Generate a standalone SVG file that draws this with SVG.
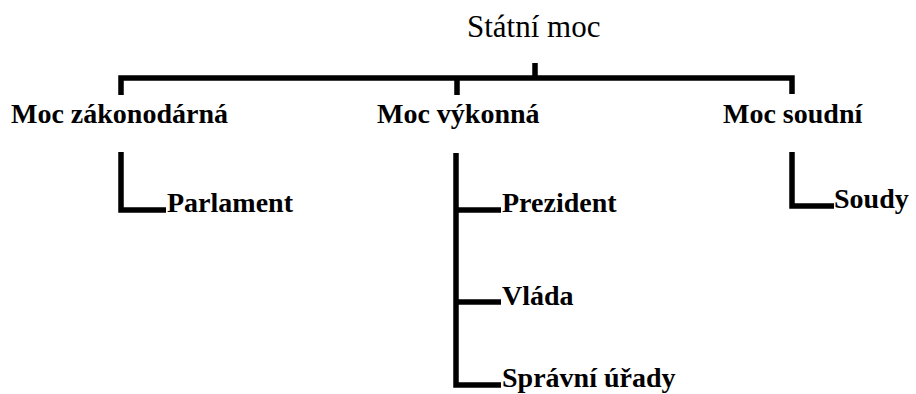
<svg xmlns="http://www.w3.org/2000/svg" width="916" height="394" viewBox="0 0 916 394">
<style>
.ln{fill:none;stroke:#000;stroke-width:5.5;stroke-linejoin:miter;stroke-linecap:butt}
.t{font-family:"Liberation Serif","Times New Roman",serif;fill:#000}
.b{font-weight:bold;font-size:28px}
.title{font-size:31px}
</style>
<rect width="916" height="394" fill="#fff"/>
<g id="connectors">
<path class="ln" d="M121,95 V78 H792 V94"/>
<path class="ln" d="M457,78 V95"/>
<path class="ln" d="M535,63 V78"/>
<path class="ln" d="M121,152 V210 H166"/>
<path class="ln" d="M456,153 V385 H501"/>
<path class="ln" d="M456,210 H501"/>
<path class="ln" d="M456,302 H501"/>
<path class="ln" d="M792,152 V206 H834"/>
</g>
<g id="statni-moc"><text class="t title" x="467" y="37">Státní moc</text></g>
<g id="moc-zakonodarna"><text class="t b" x="11" y="123">Moc zákonodárná</text></g>
<g id="moc-vykonna"><text class="t b" x="377" y="123">Moc výkonná</text></g>
<g id="moc-soudni"><text class="t b" x="723" y="123">Moc soudní</text></g>
<g id="parlament"><text class="t b" x="167" y="212">Parlament</text></g>
<g id="prezident"><text class="t b" x="502" y="212">Prezident</text></g>
<g id="vlada"><text class="t b" x="502" y="305">Vláda</text></g>
<g id="spravni-urady"><text class="t b" x="502" y="387">Správní úřady</text></g>
<g id="soudy"><text class="t b" x="834" y="208">Soudy</text></g>
</svg>
